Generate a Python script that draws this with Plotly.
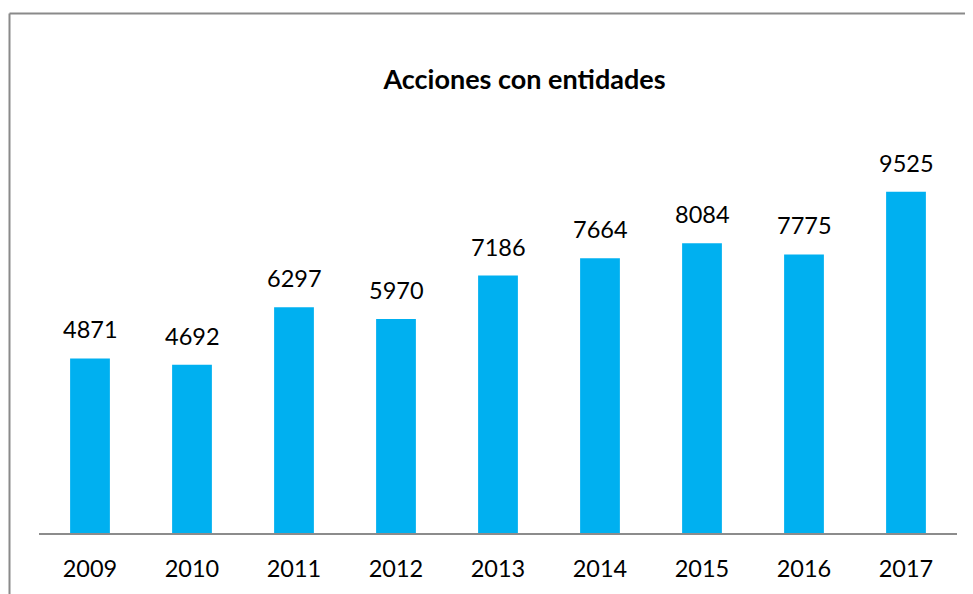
import plotly.graph_objects as go

years = ["2009", "2010", "2011", "2012", "2013", "2014", "2015", "2016", "2017"]
values = [4871, 4692, 6297, 5970, 7186, 7664, 8084, 7775, 9525]
title_text = "Acciones con entidades"

# page has an 8px body margin: figure coords = screen coords - 8
OFF = 8
W, H = 973 - OFF, 594 - OFF
SL, SR, ST, SB = 39, 957, 103, 533  # plot area in screen px
L = SL - OFF
T = ST - OFF
R = W - (SR - OFF)
B = H - (SB - OFF)
pw = W - L - R
ph = H - T - B

def px_x(p):
    return (p - OFF - L) / pw

def px_y(p):
    return (SB - p) / ph

fig = go.Figure(go.Bar(
    x=years, y=values,
    marker=dict(color="#00B0F0", line=dict(width=0)),
    cliponaxis=False,
    width=0.39,
))

# data labels: category index positions on the category axis
for i, v in enumerate(values):
    fig.add_annotation(x=i, y=v, text=str(v), showarrow=False,
                       xanchor="center", yanchor="bottom", yshift=13,
                       font=dict(family="Lato", size=23.5, color="#000000"))

fig.update_layout(
    width=W, height=H,
    margin=dict(l=L, r=R, t=T, b=B),
    paper_bgcolor="white", plot_bgcolor="white",
    showlegend=False,
    font=dict(family="Lato", color="#000000"),
    title=dict(text="<b>" + title_text + "</b>", x=(524.5 - OFF) / W, xanchor="center",
               y=1 - (80 - OFF) / H, yanchor="middle", yref="container",
               font=dict(family="Lato", size=27, color="#000000")),
    xaxis=dict(type="category", categoryorder="array", categoryarray=years,
               range=[-0.5, len(years) - 0.5],
               showline=True, linecolor="#8C8C8C", linewidth=2, ticks="outside",
               tickcolor="rgba(0,0,0,0)", ticklen=14,
               tickfont=dict(family="Lato", size=23.5, color="#000000"),
               showgrid=False, zeroline=False, fixedrange=True),
    yaxis=dict(range=[0, 12000], visible=False, showgrid=False, zeroline=False),
    shapes=[
        dict(type="line", xref="paper", yref="paper",
             x0=px_x(9.5), x1=px_x(990), y0=px_y(13.5), y1=px_y(13.5),
             line=dict(color="#8A8A8A", width=2)),
        dict(type="line", xref="paper", yref="paper",
             x0=px_x(9.5), x1=px_x(9.5), y0=px_y(13.5), y1=px_y(610),
             line=dict(color="#8A8A8A", width=2)),
    ],
)

fig.write_html("out.html")
